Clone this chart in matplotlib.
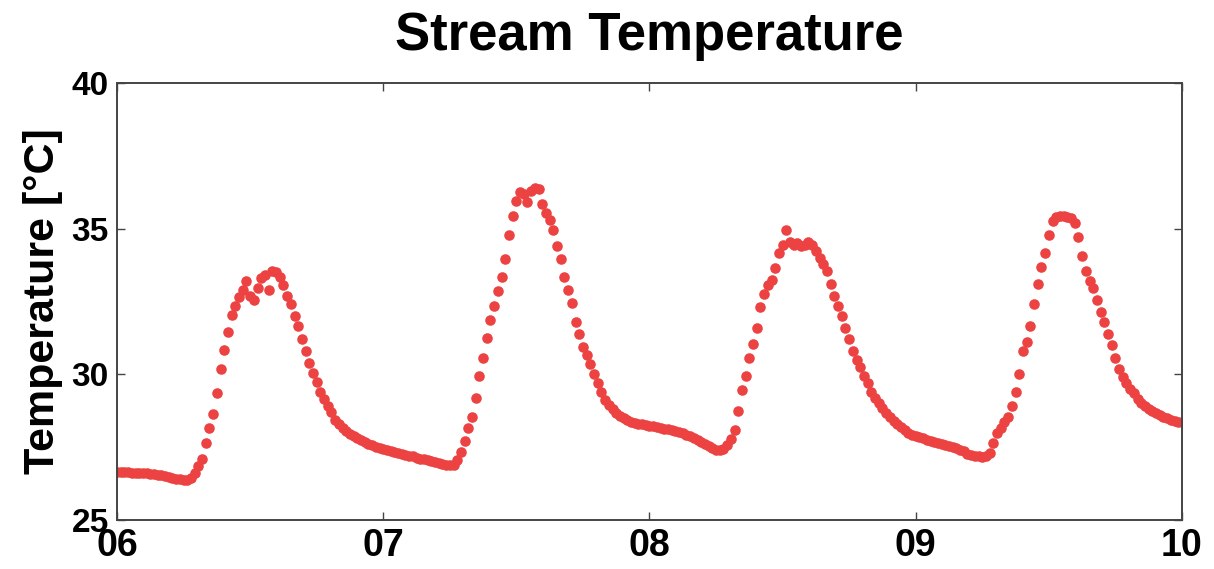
import numpy as np
import matplotlib
matplotlib.use("Agg")
import matplotlib.pyplot as plt

plt.rcParams['font.family'] = ['Liberation Sans', 'DejaVu Sans']
plt.rcParams['font.weight'] = 'bold'

# logger readings every 20 minutes, one list per day of month
STEP = 1.0 / 72

day06 = [26.66, 26.65, 26.64, 26.66, 26.63, 26.62, 26.63, 26.60, 26.61, 26.58,
         26.57, 26.55, 26.53, 26.50, 26.48, 26.45, 26.42, 26.40, 26.37, 26.36,
         26.45, 26.62, 26.85, 27.10, 27.65, 28.15, 28.65, 29.35, 30.20, 30.85,
         31.45, 32.05, 32.35, 32.65, 32.90, 33.20, 32.70, 32.55, 32.95, 33.30,
         33.40, 32.90, 33.55, 33.50, 33.35, 33.05, 32.70, 32.40, 32.00, 31.65,
         31.20, 30.80, 30.40, 30.05, 29.75, 29.40, 29.15, 28.90, 28.70, 28.45,
         28.28, 28.15, 28.05, 27.95, 27.88, 27.80, 27.74, 27.68, 27.62, 27.57,
         27.52, 27.48]

day07 = [27.45, 27.41, 27.37, 27.33, 27.30, 27.27, 27.24, 27.21, 27.18, 27.14,
         27.11, 27.08, 27.05, 27.02, 26.99, 26.96, 26.93, 26.90, 26.88, 26.90,
         27.05, 27.35, 27.70, 28.15, 28.55, 29.20, 29.95, 30.55, 31.25, 31.85,
         32.35, 32.85, 33.35, 33.95, 34.80, 35.45, 35.95, 36.25, 36.20, 35.90,
         36.30, 36.40, 36.35, 35.85, 35.55, 35.30, 34.95, 34.40, 33.95, 33.35,
         32.90, 32.45, 31.80, 31.40, 30.95, 30.65, 30.35, 30.00, 29.70, 29.40,
         29.12, 28.95, 28.80, 28.66, 28.58, 28.50, 28.43, 28.38, 28.34, 28.31,
         28.28, 28.26]

day08 = [28.24, 28.21, 28.19, 28.16, 28.14, 28.11, 28.09, 28.06, 28.02, 27.98,
         27.93, 27.88, 27.82, 27.74, 27.67, 27.60, 27.53, 27.47, 27.42, 27.40,
         27.45, 27.58, 27.78, 28.10, 28.75, 29.45, 29.95, 30.55, 31.05, 31.60,
         32.30, 32.75, 33.05, 33.25, 33.65, 34.15, 34.45, 34.95, 34.55, 34.45,
         34.50, 34.40, 34.45, 34.55, 34.45, 34.25, 34.00, 33.80, 33.55, 33.10,
         32.70, 32.35, 32.00, 31.60, 31.20, 30.80, 30.50, 30.25, 29.95, 29.70,
         29.40, 29.20, 29.02, 28.85, 28.68, 28.52, 28.40, 28.28, 28.18, 28.08,
         27.98, 27.93]

day09 = [27.90, 27.85, 27.80, 27.76, 27.71, 27.67, 27.64, 27.60, 27.57, 27.53,
         27.50, 27.46, 27.41, 27.36, 27.28, 27.24, 27.20, 27.18, 27.17, 27.20,
         27.30, 27.65, 28.00, 28.15, 28.35, 28.55, 28.90, 29.40, 30.00, 30.80,
         31.10, 31.65, 32.40, 33.10, 33.70, 34.15, 34.80, 35.25, 35.40, 35.42,
         35.43, 35.40, 35.38, 35.20, 34.72, 34.05, 33.55, 33.20, 32.95, 32.55,
         32.15, 31.80, 31.40, 31.00, 30.55, 30.20, 29.92, 29.70, 29.50, 29.35,
         29.15, 29.02, 28.92, 28.82, 28.75, 28.66, 28.60, 28.54, 28.49, 28.44,
         28.40, 28.37]

day10 = [28.35]

x_ticks = [6, 7, 8, 9, 10]
x_labels = ['06', '07', '08', '09', '10']
y_ticks = [25, 30, 35, 40]

temp = np.array(day06 + day07 + day08 + day09 + day10)
t = 6 + STEP * np.arange(len(temp))

fig = plt.figure(figsize=(12.14, 5.69), dpi=100)
ax = fig.add_axes([0.0964, 0.0861, 0.8772, 0.768])

ax.plot(t, temp, linestyle='none', marker='o', markersize=7.6,
        color='#ec4242', markeredgewidth=0)

ax.set_xlim(6, 10)
ax.set_ylim(25, 40)
ax.set_xticks(x_ticks)
ax.set_xticklabels(x_labels)
ax.set_yticks(y_ticks)

ax.tick_params(axis='both', direction='in', length=6, width=1.0,
               color='#444444', top=True, right=True)
ax.tick_params(axis='x', labelsize=27, pad=6)
ax.tick_params(axis='y', labelsize=24, pad=6)
for lab in ax.get_xticklabels() + ax.get_yticklabels():
    lab.set_fontweight('bold')
for sp in ax.spines.values():
    sp.set_color('#444444')
    sp.set_linewidth(1.4)

ax.set_title('Stream Temperature', fontsize=38, fontweight='bold', pad=24)
ax.set_ylabel('Temperature [°C]', fontsize=31, fontweight='bold', labelpad=6)

fig.savefig('out.png', dpi=100)
